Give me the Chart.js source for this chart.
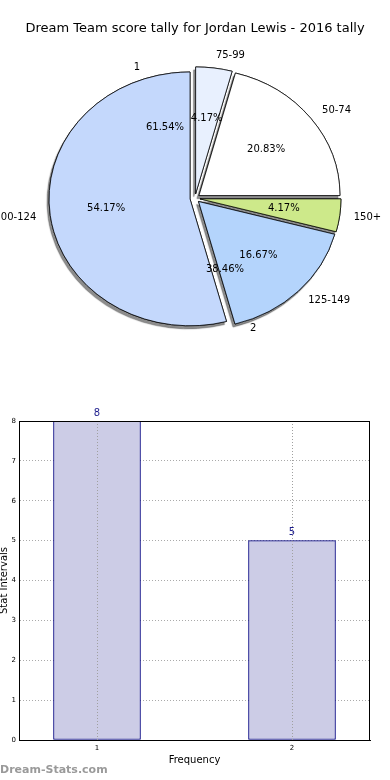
<!DOCTYPE html>
<html lang="en">
<head>
    <meta charset="UTF-8">
    <title>Dream Team score tally for Jordan Lewis - 2016 tally</title>
    <script src="https://cdn.jsdelivr.net/npm/chart.js"></script>
    <style>
        body {
            margin: 0;
            background: #ffffff;
            font-family: "DejaVu Sans", sans-serif;
        }
        .wrap {
            position: relative;
            width: 390px;
            height: 780px;
            overflow: hidden;
        }
        #pie-box { position: absolute; left: 0; top: 0; }
        #bar-box { position: absolute; left: 0; top: 400px; }
        .watermark {
            position: absolute;
            left: 0;
            top: 763px;
            font-size: 11px;
            font-weight: bold;
            color: #9a9a9a;
        }
    </style>
</head>
<body>
<div class="wrap">
    <div id="pie-box"><canvas id="pie" width="390" height="360"></canvas></div>
    <div id="bar-box"><canvas id="bars" width="390" height="380"></canvas></div>
    <div class="watermark">Dream-Stats.com</div>
</div>
<script>
    // score bands (clockwise from the top)
    const bandLabels = ['75-99', '50-74', '150+', '125-149', '100-124'];
    const bandCounts = [1, 5, 1, 4, 13];
    const bandColors = ['#e8f0fe', '#ffffff', '#cde98a', '#b4d4fc', '#c4d8fc'];

    // frequency of stat intervals
    const freqLabels = ['1', '2'];
    const freqValues = [8, 5];

    const squash = 0.9;   // the pie is drawn a bit flattened
    const explode = 5;    // every wedge pulled out a little

    Chart.defaults.font.family = '"DejaVu Sans", sans-serif';
    Chart.defaults.color = '#000';

    const pieExtras = {
        id: 'pieExtras',
        // wedges are drawn below, pulled out from the centre
        beforeDatasetDraw() { return false; },
        afterDatasetsDraw(chart) {
            const ctx = chart.ctx;
            const arcs = chart.getDatasetMeta(0).data;
            const cx = arcs[0].x, cy = arcs[0].y, r = arcs[0].outerRadius;
            const pull = (a, fn) => {
                const mid = (a.startAngle + a.endAngle) / 2;
                ctx.save();
                ctx.translate(Math.cos(mid) * explode, Math.sin(mid) * explode);
                fn();
                ctx.restore();
            };

            ctx.save();
            ctx.translate(cx, cy);
            ctx.scale(1, squash);
            ctx.translate(-cx, -cy);
            ctx.save();
            ctx.shadowColor = 'rgba(0,0,0,0.45)';
            ctx.shadowOffsetX = -2;
            ctx.shadowOffsetY = 3;
            ctx.shadowBlur = 1;
            arcs.forEach(a => pull(a, () => a.draw(ctx)));
            ctx.restore();
            arcs.forEach(a => pull(a, () => a.draw(ctx)));
            ctx.restore();

            const total = bandCounts.reduce((s, v) => s + v, 0);
            ctx.save();
            ctx.font = '10px "DejaVu Sans"';
            ctx.fillStyle = '#000';
            ctx.textBaseline = 'middle';
            arcs.forEach((a, i) => {
                const mid = (a.startAngle + a.endAngle) / 2;
                const c = Math.cos(mid), s = Math.sin(mid);
                const ox = cx + explode * c, oy = cy + explode * squash * s;
                ctx.textAlign = c > 0 ? 'left' : 'right';
                ctx.fillText(bandLabels[i], ox + 1.1 * r * c, oy + 1.1 * r * squash * s);
                ctx.textAlign = 'center';
                ctx.fillText((bandCounts[i] / total * 100).toFixed(2) + '%',
                    ox + 0.6 * r * c, oy + 0.6 * r * squash * s);
            });
            // second tally (frequency), counter-clockwise from 3 o'clock
            const ftotal = freqValues.reduce((s, v) => s + v, 0);
            let start = 0;
            freqValues.forEach((v, i) => {
                const span = v / ftotal * Math.PI * 2;
                const mid = start + span / 2;
                start += span;
                const c = Math.cos(mid), s = Math.sin(mid);
                ctx.textAlign = c > 0 ? 'left' : 'right';
                ctx.fillText(freqLabels[i], cx + 1.1 * r * c, cy - 1.1 * r * squash * s);
                ctx.textAlign = 'center';
                ctx.fillText((v / ftotal * 100).toFixed(2) + '%',
                    cx + 0.6 * r * c, cy - 0.6 * r * squash * s);
            });
            ctx.restore();
        }
    };

    new Chart(document.getElementById('pie'), {
        type: 'pie',
        data: {
            labels: bandLabels,
            datasets: [{
                data: bandCounts,
                backgroundColor: bandColors,
                borderColor: '#000',
                borderWidth: 0.8,
                hoverOffset: 0
            }]
        },
        options: {
            responsive: false,
            animation: false,
            radius: 141,
            layout: { padding: 0 },
            plugins: {
                legend: { display: false },
                tooltip: { enabled: false },
                title: {
                    display: true,
                    text: 'Dream Team score tally for Jordan Lewis - 2016 tally',
                    font: { size: 13, weight: 'normal' },
                    color: '#000',
                    padding: { top: 21, bottom: 0 }
                }
            }
        },
        plugins: [pieExtras]
    });

    const barExtras = {
        id: 'barExtras',
        afterDatasetsDraw(chart) {
            const ctx = chart.ctx;
            const a = chart.chartArea;
            const xs = chart.scales.x;
            ctx.save();
            // vertical grid shows through the bars
            ctx.strokeStyle = '#a0a0a0';
            ctx.setLineDash([1, 2]);
            xs.ticks.forEach(t => {
                const px = Math.round(xs.getPixelForValue(t.value)) + 0.5;
                ctx.beginPath();
                ctx.moveTo(px, a.top);
                ctx.lineTo(px, a.bottom);
                ctx.stroke();
            });
            ctx.setLineDash([]);
            ctx.strokeStyle = '#000';
            ctx.lineWidth = 1;
            ctx.strokeRect(a.left + 0.5, a.top + 0.5, a.right - a.left - 1, a.bottom - a.top);
            ctx.font = '10px "DejaVu Sans"';
            ctx.fillStyle = '#1c1c8c';
            ctx.textAlign = 'center';
            ctx.textBaseline = 'bottom';
            chart.getDatasetMeta(0).data.forEach((bar, i) => {
                ctx.fillText(String(freqValues[i]), bar.x, bar.y - 3);
            });
            ctx.restore();
        }
    };

    new Chart(document.getElementById('bars'), {
        type: 'bar',
        data: {
            datasets: [{
                data: freqLabels.map((l, i) => ({ x: Number(l), y: freqValues[i] })),
                backgroundColor: '#ccccE6',
                borderColor: '#000080',
                borderWidth: 1,
                borderSkipped: false,
                barThickness: 87
            }]
        },
        options: {
            responsive: false,
            animation: false,
            layout: { padding: { top: 21, right: 20, left: 0, bottom: 0 } },
            plugins: {
                legend: { display: false },
                tooltip: { enabled: false }
            },
            scales: {
                x: {
                    type: 'linear',
                    min: 0.6,
                    max: 2.4,
                    offset: false,
                    afterBuildTicks(s) { s.ticks = freqLabels.map(l => ({ value: Number(l) })); },
                    afterFit(s) { s.height = 40; },
                    ticks: { font: { size: 7 }, color: '#000', padding: 4 },
                    grid: { color: '#a0a0a0', drawTicks: false, offset: false },
                    border: { color: '#000', dash: [1, 2] },
                    title: {
                        display: true, text: 'Frequency',
                        font: { size: 10 }, color: '#000',
                        padding: { top: 0, bottom: 14 }
                    }
                },
                y: {
                    min: 0,
                    max: 8,
                    afterFit(s) { s.width = 19; },
                    ticks: { stepSize: 1, font: { size: 7 }, color: '#000', padding: 3 },
                    grid: { color: '#aaaaaa', drawTicks: false },
                    border: { color: '#000', dash: [1, 2] },
                    title: {
                        display: true, text: 'Stat Intervals',
                        font: { size: 10 }, color: '#000',
                        padding: { top: -2, bottom: 0 }
                    }
                }
            }
        },
        plugins: [barExtras]
    });
</script>
</body>
</html>
